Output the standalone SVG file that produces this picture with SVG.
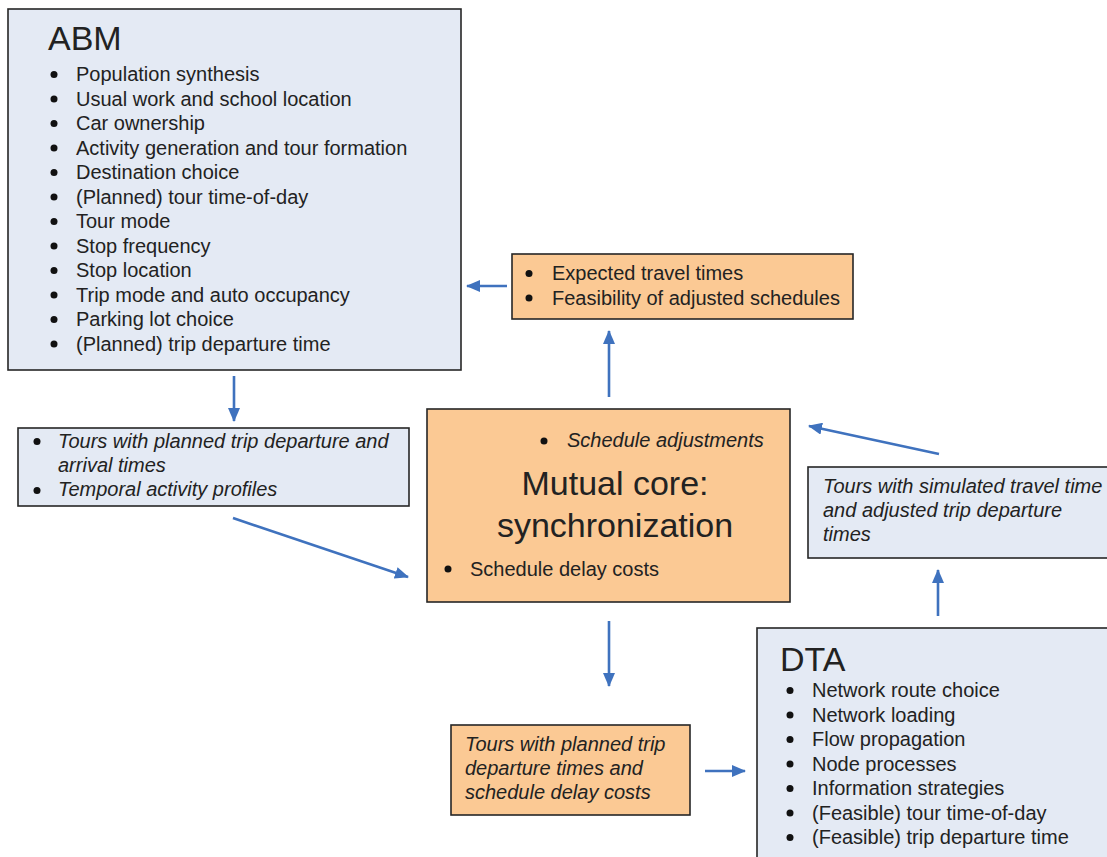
<svg xmlns="http://www.w3.org/2000/svg" width="1107" height="857" viewBox="0 0 1107 857">
<defs>
<marker id="ah" markerUnits="userSpaceOnUse" markerWidth="14" markerHeight="12" refX="13" refY="6" orient="auto">
<path d="M0,0 L14,6 L0,12 z" fill="#3F72BE"/>
</marker>
<style>
.blue{fill:#E4EAF4;stroke:#262626;stroke-width:1.6}
.orange{fill:#FBC994;stroke:#262626;stroke-width:1.6}
text{font-family:"Liberation Sans",Arial,sans-serif;fill:#222;font-size:20px}
.it{font-style:italic}
.title{font-size:34px}
.dot{fill:#111}
.conn line{stroke:#3F72BE;stroke-width:2.6;marker-end:url(#ah)}
</style>
</defs>
<rect width="1107" height="857" fill="#fff"/>

<g id="abm">
<rect class="blue" x="8" y="9" width="453" height="361"/>
<text class="title" x="48" y="50">ABM</text>
<g class="dot">
<circle cx="54" cy="74.5" r="3.5"/><circle cx="54" cy="99" r="3.5"/><circle cx="54" cy="123.5" r="3.5"/><circle cx="54" cy="148" r="3.5"/><circle cx="54" cy="172.5" r="3.5"/><circle cx="54" cy="197" r="3.5"/><circle cx="54" cy="221.5" r="3.5"/><circle cx="54" cy="246" r="3.5"/><circle cx="54" cy="270.5" r="3.5"/><circle cx="54" cy="295" r="3.5"/><circle cx="54" cy="319.5" r="3.5"/><circle cx="54" cy="344" r="3.5"/>
</g>
<text x="76" y="81">Population synthesis</text>
<text x="76" y="105.5">Usual work and school location</text>
<text x="76" y="130">Car ownership</text>
<text x="76" y="154.5">Activity generation and tour formation</text>
<text x="76" y="179">Destination choice</text>
<text x="76" y="203.5">(Planned) tour time-of-day</text>
<text x="76" y="228">Tour mode</text>
<text x="76" y="252.5">Stop frequency</text>
<text x="76" y="277">Stop location</text>
<text x="76" y="301.5">Trip mode and auto occupancy</text>
<text x="76" y="326">Parking lot choice</text>
<text x="76" y="350.5">(Planned) trip departure time</text>
</g>

<g id="abm-output">
<rect class="blue" x="18" y="428" width="391" height="78"/>
<circle class="dot" cx="37" cy="441.5" r="3.5"/>
<circle class="dot" cx="37" cy="490.5" r="3.5"/>
<text class="it" x="58" y="448">Tours with planned trip departure and</text>
<text class="it" x="58" y="472">arrival times</text>
<text class="it" x="58" y="496">Temporal activity profiles</text>
</g>

<g id="feedback">
<rect class="orange" x="512" y="254" width="341" height="65"/>
<circle class="dot" cx="529" cy="273.5" r="3.5"/>
<circle class="dot" cx="529" cy="298" r="3.5"/>
<text x="552" y="280">Expected travel times</text>
<text x="552" y="304.5">Feasibility of adjusted schedules</text>
</g>

<g id="core">
<rect class="orange" x="427" y="409" width="363" height="193"/>
<circle class="dot" cx="544" cy="441" r="3.5"/>
<text class="it" x="567" y="447">Schedule adjustments</text>
<text x="615" y="495" text-anchor="middle" style="font-size:34px">Mutual core:</text>
<text x="615" y="537" text-anchor="middle" style="font-size:34px">synchronization</text>
<circle class="dot" cx="448" cy="569" r="3.5"/>
<text x="470" y="575.5">Schedule delay costs</text>
</g>

<g id="dta-output">
<rect class="blue" x="808" y="467" width="320" height="91"/>
<text class="it" x="823" y="493">Tours with simulated travel time</text>
<text class="it" x="823" y="517">and adjusted trip departure</text>
<text class="it" x="823" y="541">times</text>
</g>

<g id="core-output">
<rect class="orange" x="451" y="725" width="239" height="90"/>
<text class="it" x="465" y="751">Tours with planned trip</text>
<text class="it" x="465" y="775">departure times and</text>
<text class="it" x="465" y="799">schedule delay costs</text>
</g>

<g id="dta">
<rect class="blue" x="757" y="628" width="370" height="250"/>
<text class="title" x="780" y="671">DTA</text>
<g class="dot">
<circle cx="790" cy="690.5" r="3.5"/><circle cx="790" cy="715" r="3.5"/><circle cx="790" cy="739.5" r="3.5"/><circle cx="790" cy="764" r="3.5"/><circle cx="790" cy="788.5" r="3.5"/><circle cx="790" cy="813" r="3.5"/><circle cx="790" cy="837.5" r="3.5"/>
</g>
<text x="812" y="697">Network route choice</text>
<text x="812" y="721.5">Network loading</text>
<text x="812" y="746">Flow propagation</text>
<text x="812" y="770.5">Node processes</text>
<text x="812" y="795">Information strategies</text>
<text x="812" y="819.5">(Feasible) tour time-of-day</text>
<text x="812" y="844">(Feasible) trip departure time</text>
</g>

<g id="connectors" class="conn">
<line x1="234" y1="376" x2="234" y2="421"/>
<line x1="233" y1="518" x2="408" y2="577"/>
<line x1="609" y1="397" x2="609" y2="331"/>
<line x1="507" y1="286" x2="467" y2="286"/>
<line x1="939" y1="454" x2="809" y2="426"/>
<line x1="938" y1="616" x2="938" y2="570"/>
<line x1="609" y1="621" x2="609" y2="686"/>
<line x1="705" y1="771" x2="745" y2="771"/>
</g>
</svg>
